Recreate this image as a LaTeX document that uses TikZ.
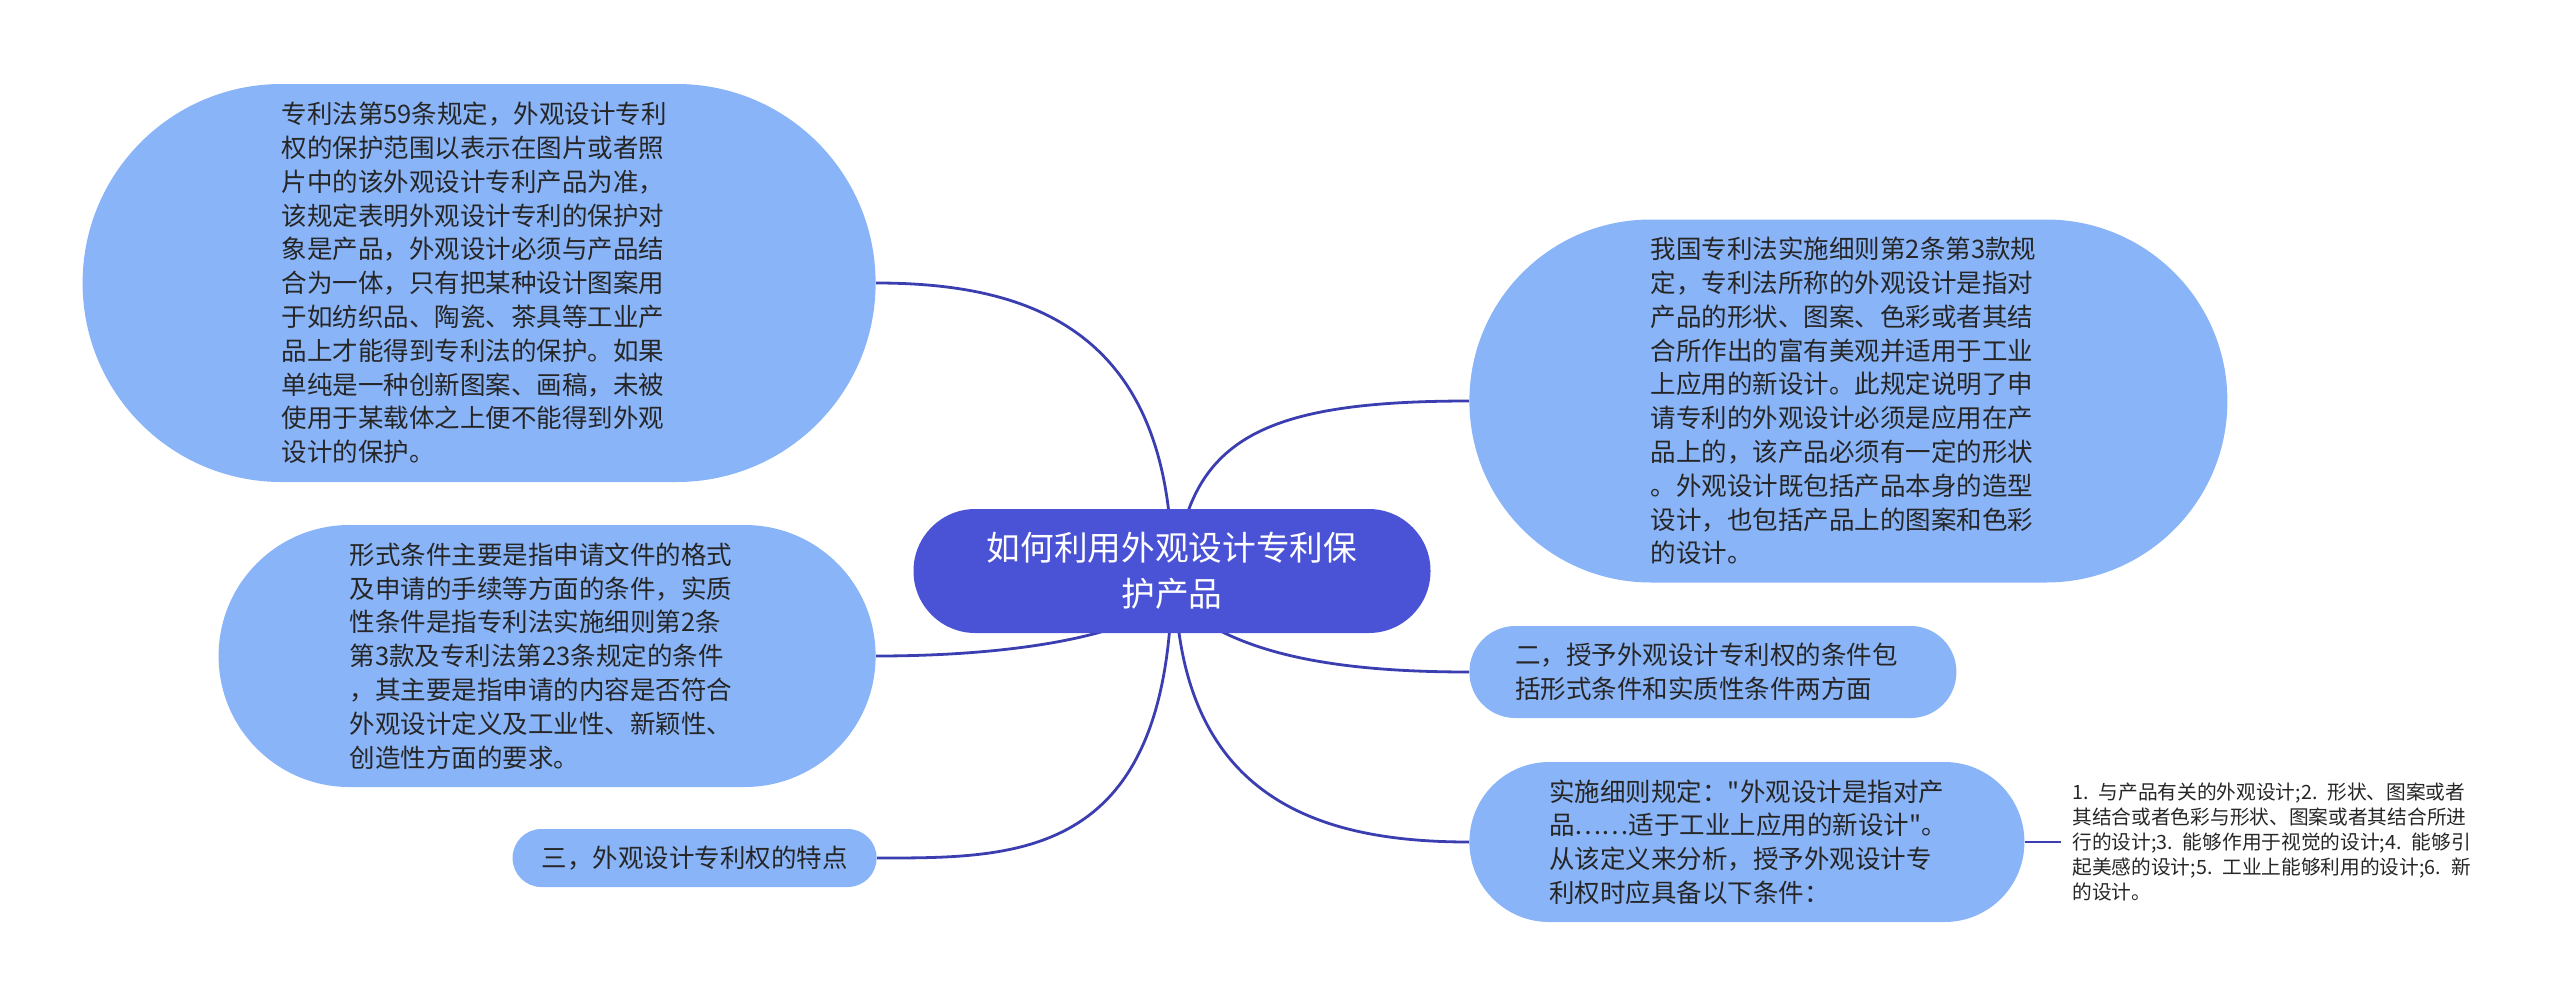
\documentclass[tikz,border=0pt]{standalone}
\usepackage{fontspec}
\newfontfamily\cjk{Noto Sans CJK SC}
\usetikzlibrary{calc}
\definecolor{bfill}{RGB}{138,180,248}
\definecolor{rootfill}{RGB}{74,82,213}
\definecolor{conncol}{RGB}{58,62,176}
\definecolor{txt}{RGB}{38,38,38}
\pgfdeclarelayer{bg}
\pgfsetlayers{bg,main}
\begin{document}
\begin{tikzpicture}[x=0.5pt,y=-0.5pt,
  branch/.style={fill=bfill, text=txt, font=\cjk\fontsize{12.75pt}{16.9pt}\selectfont,
    align=left, inner ysep=0pt, text width=197.5pt},
  shortbranch/.style={fill=bfill, text=txt, font=\cjk\fontsize{12.75pt}{16.9pt}\selectfont,
    inner ysep=0pt},
  rootbox/.style={fill=rootfill, text=white, font=\cjk\fontsize{16.85pt}{23pt}\selectfont,
    align=center, inner sep=0pt, minimum width=258.5pt, minimum height=62pt, rounded corners=30.9pt},
  leaf/.style={text=txt, font=\cjk\fontsize{9.85pt}{12.5pt}\selectfont, align=left,
    text width=200pt, inner xsep=5.5pt, inner ysep=0pt},
  conn/.style={draw=conncol, line width=1.4pt},
]
\useasboundingbox (0,0) rectangle (2560,1007);

\node[rootbox] (root) at (1172,571) {如何利用外观设计专利保\\护产品};

\node[branch, anchor=east, minimum height=199pt, inner xsep=99.5pt, rounded corners=99.4pt] (A) at (876,283)
{专利法第59条规定，外观设计专利\\
权的保护范围以表示在图片或者照\\
片中的该外观设计专利产品为准，\\
该规定表明外观设计专利的保护对\\
象是产品，外观设计必须与产品结\\
合为一体，只有把某种设计图案用\\
于如纺织品、陶瓷、茶具等工业产\\
品上才能得到专利法的保护。如果\\
单纯是一种创新图案、画稿，未被\\
使用于某载体之上便不能得到外观\\
设计的保护。};

\node[branch, anchor=west, minimum height=181.5pt, inner xsep=90.75pt, rounded corners=90.65pt] (B) at (1469,401)
{我国专利法实施细则第2条第3款规\\
定，专利法所称的外观设计是指对\\
产品的形状、图案、色彩或者其结\\
合所作出的富有美观并适用于工业\\
上应用的新设计。此规定说明了申\\
请专利的外观设计必须是应用在产\\
品上的，该产品必须有一定的形状\\
。外观设计既包括产品本身的造型\\
设计，也包括产品上的图案和色彩\\
的设计。};

\node[branch, anchor=east, minimum height=131pt, inner xsep=65.5pt, rounded corners=65.4pt] (C) at (876,656)
{形式条件主要是指申请文件的格式\\
及申请的手续等方面的条件，实质\\
性条件是指专利法实施细则第2条\\
第3款及专利法第23条规定的条件\\
，其主要是指申请的内容是否符合\\
外观设计定义及工业性、新颖性、\\
创造性方面的要求。};

\node[branch, anchor=west, minimum height=46pt, inner xsep=23pt, rounded corners=22.9pt] (D) at (1469,672)
{二，授予外观设计专利权的条件包\\
括形式条件和实质性条件两方面};

\node[branch, anchor=west, minimum height=80pt, inner xsep=40pt, rounded corners=39.9pt] (E) at (1469,842)
{实施细则规定："外观设计是指对产\\
品……适于工业上应用的新设计"。\\
从该定义来分析，授予外观设计专\\
利权时应具备以下条件：};

\node[shortbranch, anchor=east, minimum height=29pt, inner xsep=14.5pt, rounded corners=14.4pt] (G) at (877,858)
{三，外观设计专利权的特点};

\node[leaf, anchor=west] (F) at (2061,842)
{1. 与产品有关的外观设计;2. 形状、图案或者\\
其结合或者色彩与形状、图案或者其结合所进\\
行的设计;3. 能够作用于视觉的设计;4. 能够引\\
起美感的设计;5. 工业上能够利用的设计;6. 新\\
的设计。};

\begin{pgfonlayer}{bg}
\draw[conn] (root.center) .. controls (1172,330) and (1030,283) .. (A.east);
\draw[conn] ($(root.center)+(3,0)$) .. controls (1190,440) and (1260,401) .. (B.west);
\draw[conn] ($(root.center)+(0,29)$) .. controls (1120,640) and (1000,656) .. (C.east);
\draw[conn] ($(root.center)+(3,29)$) .. controls (1230,650) and (1320,672) .. (D.west);
\draw[conn] ($(root.center)+(3,0)$) .. controls (1175,800) and (1320,842) .. (E.west);
\draw[conn] (root.center) .. controls (1172,860) and (1020,858) .. (G.east);
\draw[conn] (E.east) -- (F.west);
\end{pgfonlayer}
\end{tikzpicture}
\end{document}
